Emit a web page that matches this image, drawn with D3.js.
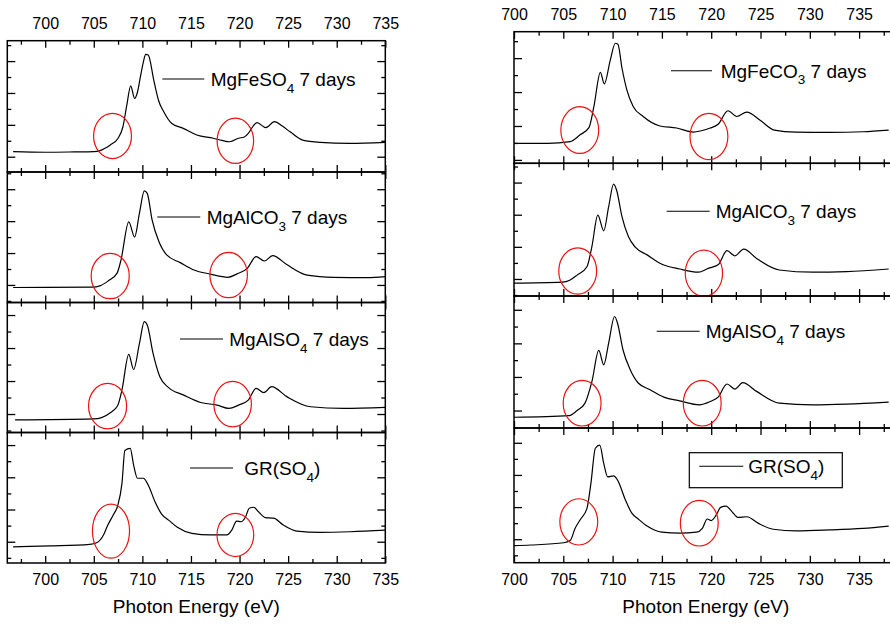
<!DOCTYPE html>
<html>
<head>
<meta charset="utf-8">
<script src="https://cdn.jsdelivr.net/npm/d3@7"></script>
<style>
  body { margin: 0; background: #fff; }
  svg { display: block; }
  text { font-family: Arial, "Liberation Sans", sans-serif; fill: #000; }
</style>
</head>
<body>
<svg id="chart" width="890" height="624"></svg>
<script>
// Fe L-edge XAS spectra: [photon energy (eV), normalised intensity (a.u.)]
const leftFeSO4 = [[696.7,0.16],[700,0.14],[703,0.15],[705,0.16],[705.65,0.19],[706.2,0.27],[706.7,0.37],[707.5,0.58],[708.0,0.94],[708.4,1.62],[708.8,2.22],[709.2,1.83],[709.5,2.03],[709.8,2.51],[710.1,2.97],[710.35,3.21],[710.6,3.19],[710.85,2.94],[711.1,2.51],[711.4,2.09],[711.65,1.78],[712.2,1.41],[713.0,1.05],[714.2,0.89],[715.6,0.68],[717.3,0.58],[718.2,0.51],[719.0,0.47],[719.9,0.58],[720.5,0.62],[720.9,0.73],[721.4,0.96],[721.8,1.07],[722.7,0.91],[723.6,1.10],[724.4,0.96],[725.2,0.78],[726.5,0.52],[728.3,0.45],[731.3,0.42],[735,0.45]];
const leftAlCO3 = [[696.7,-0.08],[704.8,-0.07],[705.7,-0.02],[706.5,0.13],[707.4,0.37],[707.8,0.78],[708.6,1.98],[709.2,1.50],[709.7,2.25],[710.2,2.95],[710.5,2.87],[711.0,2.04],[711.7,1.36],[712.5,0.94],[713.9,0.70],[715.3,0.47],[717.0,0.34],[718.8,0.24],[719.7,0.34],[720.8,0.52],[721.7,0.89],[722.55,0.75],[723.4,0.92],[724.9,0.63],[726.95,0.31],[729.7,0.24],[733.1,0.23],[735,0.26]];
const leftAlSO4 = [[696.9,-0.18],[705.0,-0.15],[705.8,-0.11],[706.7,0.04],[707.45,0.25],[707.9,0.73],[708.6,1.81],[709.1,1.35],[709.7,2.14],[710.2,2.80],[710.5,2.70],[711.1,1.84],[711.8,1.13],[712.7,0.80],[714.2,0.58],[716.0,0.35],[717.7,0.27],[718.9,0.17],[719.9,0.27],[720.9,0.42],[721.7,0.78],[722.5,0.65],[723.3,0.83],[724.9,0.52],[727.3,0.22],[730.7,0.17],[735,0.20]];
const leftGR = [[696.7,-0.16],[700.5,-0.13],[704.6,-0.08],[705.3,-0.03],[706.0,0.21],[706.4,0.49],[707.0,0.83],[707.45,1.11],[707.9,1.81],[708.2,2.83],[708.75,2.90],[709.1,2.38],[709.5,1.97],[710.1,1.97],[710.6,1.76],[711.3,1.24],[712.0,0.85],[712.7,0.67],[713.6,0.45],[715.1,0.26],[717.0,0.21],[718.7,0.21],[719.2,0.36],[719.7,0.64],[720.15,0.62],[720.6,0.76],[721.0,1.04],[721.45,1.07],[721.95,0.93],[722.65,0.75],[723.5,0.73],[724.5,0.52],[725.9,0.33],[728.3,0.29],[731.4,0.31],[735,0.36]];

const rightFeCO3 = [[700,0.49],[703.4,0.49],[705.7,0.54],[706.7,0.74],[707.6,0.95],[708.1,1.57],[708.76,2.58],[709.16,2.24],[709.77,2.95],[710.27,3.44],[710.54,3.41],[710.95,2.71],[711.45,2.06],[712.1,1.57],[713.1,1.28],[714.8,1.00],[716.5,0.94],[718.2,0.82],[719.0,0.86],[719.9,0.94],[720.7,1.05],[721.7,1.45],[722.6,1.28],[723.6,1.41],[725.0,1.16],[726.4,0.88],[728.6,0.82],[732.0,0.81],[735.4,0.83],[738.0,0.88]];
const rightAlCO3 = [[700,-0.13],[704.9,-0.10],[705.7,-0.03],[706.4,0.12],[707.4,0.38],[707.9,1.01],[708.5,1.99],[709.1,1.50],[709.6,2.25],[710.1,2.95],[710.4,2.77],[710.95,1.94],[711.6,1.32],[712.3,0.99],[713.5,0.75],[715.0,0.46],[716.8,0.31],[718.7,0.21],[719.7,0.33],[720.7,0.44],[721.6,0.88],[722.4,0.72],[723.3,0.93],[724.6,0.64],[726.9,0.28],[730.3,0.21],[733.7,0.23],[738,0.31]];
const rightAlSO4 = [[700,-0.20],[705.6,-0.15],[706.4,0.00],[707.2,0.22],[707.9,0.86],[708.6,1.79],[709.1,1.36],[709.6,2.01],[710.2,2.80],[710.5,2.60],[711.05,1.81],[711.8,1.21],[712.6,0.82],[713.8,0.62],[715.2,0.40],[716.8,0.29],[718.8,0.17],[719.9,0.27],[720.7,0.40],[721.6,0.79],[722.4,0.64],[723.2,0.83],[724.6,0.57],[726.9,0.22],[730.3,0.17],[733.7,0.19],[738,0.25]];
const rightGR = [[700,-0.20],[701.7,-0.18],[705.05,-0.11],[705.7,-0.04],[706.2,0.34],[706.7,0.60],[707.4,0.96],[707.8,1.74],[708.25,2.83],[708.7,2.93],[709.1,2.36],[709.5,1.94],[710.1,1.97],[710.5,1.84],[711.3,1.22],[711.95,0.81],[712.6,0.63],[713.5,0.41],[715.0,0.22],[716.8,0.19],[718.5,0.22],[719.1,0.34],[719.6,0.63],[720.0,0.58],[720.5,0.75],[720.95,0.99],[721.5,1.03],[722.1,0.86],[722.7,0.68],[723.6,0.70],[724.75,0.50],[726.3,0.31],[728.6,0.26],[732,0.29],[735.4,0.34],[738,0.41]];

// Highlighted pre-edge regions (L3 and L2): [centre eV, centre intensity, radius eV, radius intensity]
const leftMarks  = [
  [[706.93,0.65,1.95,0.71],[719.57,0.50,1.88,0.71]],
  [[706.69,0.28,1.96,0.71],[718.88,0.31,1.93,0.71]],
  [[706.42,0.24,1.96,0.69],[719.29,0.30,1.93,0.69]],
  [[706.77,0.33,1.91,0.84],[719.57,0.21,1.89,0.67]]
];
const rightMarks = [
  [[706.67,0.88,1.92,0.69],[719.77,0.69,1.92,0.68]],
  [[706.46,0.25,1.92,0.72],[719.26,0.18,1.89,0.72]],
  [[706.91,0.22,1.92,0.68],[719.09,0.22,1.92,0.68]],
  [[706.57,0.54,1.92,0.72],[718.79,0.50,1.92,0.71]]
];

// Legend labels: [text, subscript, text after subscript]
const leftLabels  = [["MgFeSO","4"," 7 days"],["MgAlCO","3"," 7 days"],["MgAlSO","4"," 7 days"],["GR(SO","4",")"]];
const rightLabels = [["MgFeCO","3"," 7 days"],["MgAlCO","3"," 7 days"],["MgAlSO","4"," 7 days"],["GR(SO","4",")"]];

// Intensity range shown in each stacked panel (a.u.)
const leftYDomains  = [[-0.48,3.64],[-0.55,3.54],[-0.56,3.38],[-0.66,3.39]];
const rightYDomains = [[-0.10,3.78],[-0.53,3.60],[-0.52,3.41],[-0.73,3.46]];

const xTitle = "Photon Energy (eV)";

// ---- layout ----
const columns = [
  { x0: 7.3, x1: 385.3, xDomain: [696.1, 735], bounds: [40.7, 172, 302.5, 432.5, 563],
    series: [leftFeSO4, leftAlCO3, leftAlSO4, leftGR], marks: leftMarks, labels: leftLabels,
    yDomains: leftYDomains, titleX: 196.3,
    legends: [{lx:162.3, len:42, tx:210.7, base:45.3}, {lx:157.3, len:43, tx:206.7, base:52},
              {lx:180, len:43, tx:229.3, base:43.5}, {lx:190, len:43, tx:244.3, base:42.5}] },
  { x0: 514, x1: 902.5, xDomain: [700, 739.4], bounds: [31.7, 163.3, 296, 428, 562.7],
    series: [rightFeCO3, rightAlCO3, rightAlSO4, rightGR], marks: rightMarks, labels: rightLabels,
    yDomains: rightYDomains, titleX: 705.8,
    legends: [{lx:671, len:41, tx:720.7, base:46}, {lx:666.7, len:43, tx:715.7, base:55},
              {lx:656.7, len:43, tx:705.7, base:42.3}, {lx:699.3, len:44, tx:748.3, base:45.3, box:true}] }
];

const svg = d3.select("#chart");

function rangeStep(lo, hi, step, offset) {
  const out = [];
  for (let v = Math.ceil((lo - offset) / step) * step + offset; v <= hi + 1e-9; v += step) out.push(+v.toFixed(4));
  return out;
}

columns.forEach(col => {
  const x = d3.scaleLinear().domain(col.xDomain).range([col.x0, col.x1]);
  const xMinor = rangeStep(col.xDomain[0], col.xDomain[1], 5, 2.5);
  const xMajor = rangeStep(col.xDomain[0], col.xDomain[1], 5, 0);

  col.series.forEach((data, i) => {
    const top = col.bounds[i], bottom = col.bounds[i + 1];
    const y = d3.scaleLinear().domain(col.yDomains[i]).range([bottom, top]);
    const g = svg.append("g");
    const yd = col.yDomains[i];
    const yMajor = rangeStep(yd[0], yd[1], 1, 0);
    const yMinor = rangeStep(yd[0], yd[1], 1, 0.5);

    // inward ticks on all four sides
    const addAxis = (axis, transform) => {
      const a = g.append("g").attr("transform", transform).call(axis);
      a.select(".domain").remove();
      a.selectAll(".tick line").attr("stroke", "#000").attr("stroke-width", 1.3);
      return a;
    };
    addAxis(d3.axisLeft(y).tickValues(yMajor).tickSize(-8).tickFormat(""), `translate(${col.x0},0)`);
    addAxis(d3.axisLeft(y).tickValues(yMinor).tickSize(-4).tickFormat(""), `translate(${col.x0},0)`);
    addAxis(d3.axisRight(y).tickValues(yMajor).tickSize(-8).tickFormat(""), `translate(${col.x1},0)`);
    addAxis(d3.axisRight(y).tickValues(yMinor).tickSize(-4).tickFormat(""), `translate(${col.x1},0)`);
    addAxis(d3.axisBottom(x).tickValues(xMinor).tickSize(-4).tickFormat(""), `translate(0,${bottom})`);
    addAxis(d3.axisTop(x).tickValues(xMinor).tickSize(-4).tickFormat(""), `translate(0,${top})`);

    const bAx = addAxis(d3.axisBottom(x).tickValues(xMajor).tickSize(-7).tickPadding(11)
      .tickFormat(i === 3 ? d3.format("d") : ""), `translate(0,${bottom})`);
    const tAx = addAxis(d3.axisTop(x).tickValues(xMajor).tickSize(-7).tickPadding(11.5)
      .tickFormat(i === 0 ? d3.format("d") : ""), `translate(0,${top})`);
    [bAx, tAx].forEach(a => a.selectAll("text")
      .attr("font-size", 16).attr("font-family", "Arial, 'Liberation Sans', sans-serif").attr("fill", "#000"));

    // frame
    g.append("rect").attr("x", col.x0).attr("y", top)
      .attr("width", col.x1 - col.x0).attr("height", bottom - top)
      .attr("fill", "none").attr("stroke", "#000").attr("stroke-width", 1.5);

    // spectrum
    const line = d3.line().x(d => x(d[0])).y(d => y(d[1])).curve(d3.curveMonotoneX);
    g.append("path").datum(data).attr("d", line)
      .attr("fill", "none").attr("stroke", "#000").attr("stroke-width", 1.2);

    // highlighted regions
    g.selectAll("ellipse").data(col.marks[i]).join("ellipse")
      .attr("cx", d => x(d[0])).attr("cy", d => y(d[1]))
      .attr("rx", d => x(d[0] + d[2]) - x(d[0]))
      .attr("ry", d => y(d[1]) - y(d[1] + d[3]))
      .attr("fill", "none").attr("stroke", "#ee1111").attr("stroke-width", 1.2);

    // legend
    const lg = col.legends[i];
    const base = top + lg.base;
    const lab = col.labels[i];
    if (lg.box) {
      g.append("rect").attr("x", lg.lx - 10).attr("y", base - 20.6)
        .attr("width", 153).attr("height", 35)
        .attr("fill", "#fff").attr("stroke", "#000").attr("stroke-width", 1.2);
    }
    g.append("line").attr("x1", lg.lx).attr("x2", lg.lx + lg.len)
      .attr("y1", base - 7).attr("y2", base - 7)
      .attr("stroke", "#000").attr("stroke-width", 1.1);
    const t = g.append("text").attr("x", lg.tx).attr("y", base).attr("font-size", 19);
    t.append("tspan").text(lab[0]);
    t.append("tspan").attr("dy", 6.5).attr("font-size", 13.5).text(lab[1]);
    t.append("tspan").attr("dy", -6.5).text(lab[2]);
  });

  svg.append("text").attr("x", col.titleX).attr("y", 612.5)
    .attr("text-anchor", "middle").attr("font-size", 19).text(xTitle);
});
</script>
</body>
</html>
